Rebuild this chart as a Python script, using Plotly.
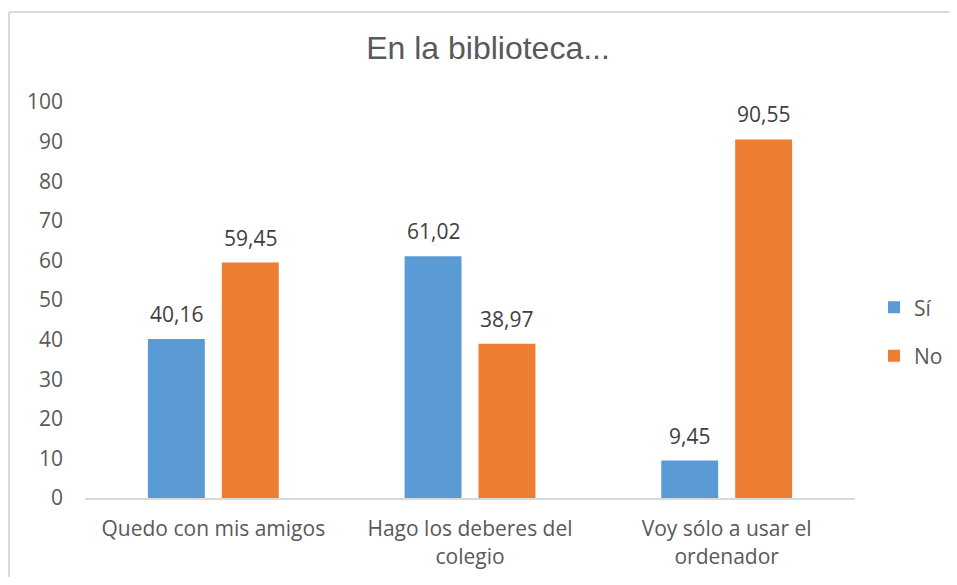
import plotly.graph_objects as go

categories = ["Quedo con mis amigos", "Hago los deberes del<br>colegio", "Voy sólo a usar el<br>ordenador"]
series_names = ["Sí", "No"]
si_values = [40.16, 61.02, 9.45]
no_values = [59.45, 38.97, 90.55]
y_ticks = list(range(0, 101, 10))

colors = ["#5B9BD5", "#ED7D31"]
font_family = "Open Sans"
text_color = "#595959"

# page body has an 8px margin on each side; size figure to fit without overflow
W, H = 941, 569
L, R, T, B = 77, 94, 94, 79
plot_w = W - L - R
plot_h = H - T - B

fig = go.Figure()
for i, (name, vals) in enumerate(zip(series_names, [si_values, no_values])):
    fig.add_trace(go.Bar(
        x=categories, y=vals, name=name,
        marker=dict(color=colors[i], line=dict(width=0)),
        legendgroup=name,
    ))

# data labels
cat_w = plot_w / len(categories)
bargap = 0.424
offset = (1 - bargap) * cat_w / 4
annotations = []
for i, vals in enumerate([si_values, no_values]):
    for c, v in zip(categories, vals):
        annotations.append(dict(
            x=c, y=v, xref="x", yref="y",
            text=f"{v:.2f}".replace(".", ","),
            showarrow=False, yanchor="bottom",
            xshift=(-offset if i == 0 else offset), yshift=9,
            font=dict(family=font_family, size=21, color="#404040"),
        ))

# chart border (top and left visible)
x_left = (1 - L) / plot_w
y_top = (H - B - 4) / plot_h
shapes = [
    dict(type="line", xref="paper", yref="paper", x0=x_left, x1=(W + 20 - L) / plot_w,
         y0=y_top, y1=y_top, line=dict(color="#D9D9D9", width=2)),
    dict(type="line", xref="paper", yref="paper", x0=x_left, x1=x_left,
         y0=y_top, y1=-(B + 20) / plot_h, line=dict(color="#D9D9D9", width=2)),
]

fig.update_layout(
    width=W, height=H,
    margin=dict(l=L, r=R, t=T, b=B, autoexpand=False),
    paper_bgcolor="white", plot_bgcolor="white",
    title=dict(text="En la biblioteca...", x=480 / W, xanchor="center",
               y=1 - 40 / H, yanchor="middle",
               font=dict(family="Liberation Sans", size=32, color=text_color)),
    barmode="group", bargap=bargap, bargroupgap=0.23,
    font=dict(family=font_family, size=21, color=text_color),
    legend=dict(x=(W - L - 1) / plot_w, y=0.42, xanchor="right", yanchor="middle",
                tracegroupgap=18, font=dict(family=font_family, size=21, color=text_color),
                bgcolor="rgba(0,0,0,0)"),
    annotations=annotations,
    shapes=shapes,
    showlegend=True,
)
fig.update_xaxes(showline=True, linecolor="#D9D9D9", linewidth=2, showgrid=False,
                 ticks="", automargin=False, ticklabelstandoff=11,
                 tickfont=dict(family=font_family, size=21, color=text_color))
fig.update_yaxes(range=[0, 100], tickvals=y_ticks, showgrid=False, zeroline=False,
                 showline=False, ticks="", ticklabelstandoff=21, automargin=False,
                 tickfont=dict(family=font_family, size=21, color=text_color))

fig.write_html("out.html")
